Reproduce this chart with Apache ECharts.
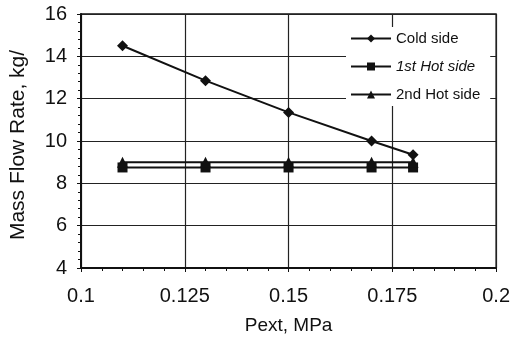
<!DOCTYPE html>
<html>
<head>
<meta charset="utf-8">
<script src="https://cdn.jsdelivr.net/npm/echarts@6/dist/echarts.min.js"></script>
<style>
  html, body { margin: 0; padding: 0; background: #fff; }
  #chart { width: 513px; height: 342px; }
</style>
</head>
<body>
<div id="chart"></div>
<script>
// pressure Pext, MPa
const pext = [0.11, 0.13, 0.15, 0.17, 0.18]
const coldSide = [14.5, 12.85, 11.35, 10.0, 9.35]
const hot1Side = [8.75, 8.75, 8.75, 8.75, 8.75]
const hot2Side = [9.0, 9.0, 9.0, 9.0, 9.0]
const xTickLabels = ['0.1', '0.125', '0.15', '0.175', '0.2']

const font = 'Liberation Sans, Arial, sans-serif'
const ink = '#111'

function pairs(ys) {
  return pext.map((x, i) => [x, ys[i]])
}

const chart = echarts.init(document.getElementById('chart'))
chart.setOption({
  animation: false,
  backgroundColor: '#fff',
  grid: { left: 77, right: 16, top: 14, bottom: 74, show: true, borderColor: ink, borderWidth: 1.3 },
  legend: {
    orient: 'vertical',
    left: 346,
    top: 27,
    itemWidth: 40,
    itemHeight: 10,
    itemGap: 13,
    padding: [4, 10, 4, 4],
    backgroundColor: '#fff',
    textStyle: { fontFamily: font, fontSize: 15, color: ink },
    data: [
      { name: 'Cold side' },
      { name: '1st Hot side', textStyle: { fontStyle: 'italic' } },
      { name: '2nd Hot side' },
    ],
  },
  xAxis: {
    type: 'value',
    min: 0.1,
    max: 0.2,
    interval: 0.025,
    name: 'Pext, MPa',
    nameLocation: 'middle',
    nameGap: 48,
    nameTextStyle: { fontFamily: font, fontSize: 19, color: ink },
    axisLine: { lineStyle: { color: ink, width: 2 } },
    axisTick: { show: true, inside: false, length: 4, lineStyle: { color: ink } },
    minorTick: { show: true, splitNumber: 5, length: 3, lineStyle: { color: ink } },
    axisLabel: {
      fontFamily: font, fontSize: 20, color: ink, margin: 18,
      formatter: (v) => xTickLabels[Math.round((v - 0.1) / 0.025)],
    },
    splitLine: { show: true, lineStyle: { color: '#222', width: 1.2 } },
  },
  yAxis: {
    type: 'value',
    min: 4,
    max: 16,
    interval: 2,
    name: 'Mass Flow Rate, kg/',
    nameLocation: 'middle',
    nameGap: 52,
    nameTextStyle: { fontFamily: font, fontSize: 21, color: ink, padding: [0, 8, 0, 0] },
    axisLine: { lineStyle: { color: ink, width: 2 } },
    axisTick: { show: true, length: 4, lineStyle: { color: ink } },
    minorTick: { show: true, splitNumber: 5, length: 3, lineStyle: { color: ink } },
    axisLabel: { fontFamily: font, fontSize: 20, color: ink, margin: 14 },
    splitLine: { show: true, lineStyle: { color: '#222', width: 1.2 } },
  },
  series: [
    {
      name: 'Cold side',
      type: 'line',
      data: pairs(coldSide),
      symbol: 'diamond',
      symbolSize: 11,
      itemStyle: { color: ink },
      lineStyle: { color: ink, width: 2 },
      z: 4,
    },
    {
      name: '1st Hot side',
      type: 'line',
      data: pairs(hot1Side),
      symbol: 'rect',
      symbolSize: 10,
      itemStyle: { color: ink },
      lineStyle: { color: ink, width: 2 },
      z: 3,
    },
    {
      name: '2nd Hot side',
      type: 'line',
      data: pairs(hot2Side),
      symbol: 'triangle',
      symbolSize: 11,
      itemStyle: { color: ink },
      lineStyle: { color: ink, width: 2 },
      z: 3,
    },
  ],
})
</script>
</body>
</html>
